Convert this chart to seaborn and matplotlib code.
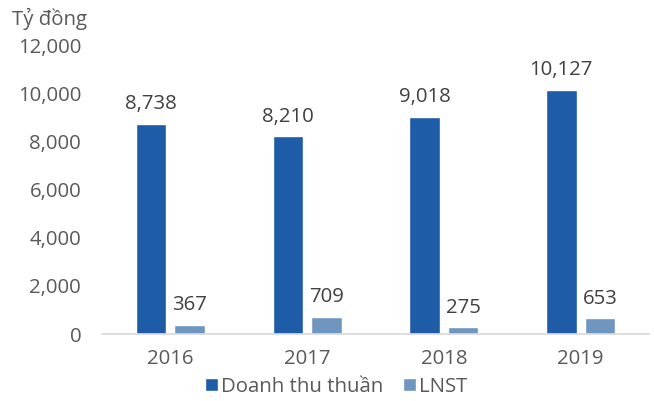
import seaborn as sns
import matplotlib.pyplot as plt
import pandas as pd
from matplotlib.ticker import FuncFormatter

# Data
nam = ['2016', '2017', '2018', '2019']
doanh_thu = [8738, 8210, 9018, 10127]
lnst = [367, 709, 275, 653]
series = ['Doanh thu thuần', 'LNST']

datos = pd.DataFrame({
    'nam': nam * 2,
    'giatri': doanh_thu + lnst,
    'loai': [series[0]] * 4 + [series[1]] * 4,
})

sns.set_style('white')
plt.rcParams['font.family'] = ['Open Sans', 'DejaVu Sans']

fig = plt.figure(figsize=(6.54, 4.01), dpi=100)
ax = fig.add_axes([102 / 654, 1 - 334 / 401, 547 / 654, (334 - 45) / 401])

sns.barplot(data=datos, x='nam', y='giatri', hue='loai',
            palette=['#1f5ca7', '#6f96bf'], width=0.565, gap=0.21,
            saturation=1, ax=ax)

for c in ax.containers:
    ax.bar_label(c, labels=[f'{v:,.0f}' for v in c.datavalues],
                 padding=7, fontsize=14.7, color='#404040')

ax.set_ylim(0, 12000)
ax.set_yticks(range(0, 12001, 2000))
ax.yaxis.set_major_formatter(FuncFormatter(lambda v, p: f'{v:,.0f}'))
ax.set_xlabel('')
ax.set_ylabel('')
ax.tick_params(axis='both', labelsize=14.7, labelcolor='#595959', length=0)
ax.tick_params(axis='y', pad=15)
ax.tick_params(axis='x', pad=11)

sns.despine(ax=ax, left=True)
ax.spines['bottom'].set_color('#d9d9d9')
ax.spines['bottom'].set_linewidth(1.2)

leg = ax.legend(loc='upper center', bbox_to_anchor=(0.428, -0.148), ncol=2,
                frameon=False, fontsize=14.7, handlelength=0.6, handleheight=0.6,
                handletextpad=0.15, columnspacing=1.0, labelcolor='#595959',
                borderaxespad=0, borderpad=0)

fig.text(12 / 654, 1 - 19 / 401, 'Tỷ đồng', fontsize=14.7, color='#595959',
         va='center', ha='left')

plt.savefig('out.png', dpi=100)
